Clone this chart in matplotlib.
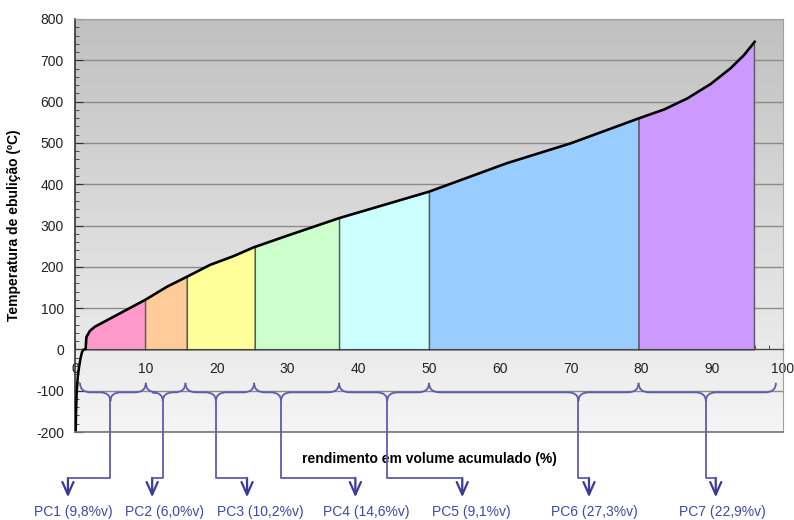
import matplotlib.pyplot as plt
import numpy as np
from matplotlib.colors import LinearSegmentedColormap
from matplotlib.path import Path
from matplotlib.patches import PathPatch
from matplotlib.ticker import MultipleLocator

plt.rcParams['font.family'] = ['Liberation Sans', 'DejaVu Sans']
plt.rcParams['axes.unicode_minus'] = False

# distillation curve: accumulated volume (%) vs boiling temperature (C)
vol = [0.1, 0.15, 0.25, 0.4, 0.6, 0.8, 1.0, 1.2, 1.5, 1.6, 2.1, 2.8, 9.9, 13.0,
       15.8, 19.1, 22.4, 25.2, 29.9, 37.3, 50.0, 61.0, 70.0, 79.7, 83.2, 86.5,
       89.8, 92.6, 94.5, 96.0]
temp = [-200, -150, -100, -65, -40, -20, -6, -1, 1, 30, 45, 55, 120, 152,
        176, 205, 226, 247, 275, 318, 382, 451, 499, 560, 581, 608,
        643, 681, 713, 745]

# cut points of the coloured fractions
cuts = [1.5, 9.9, 15.8, 25.4, 37.3, 50.0, 79.6, 95.9]
cut_colors = ['#ff99cc', '#ffcc99', '#ffff99', '#ccffcc', '#ccffff', '#99ccff', '#cc99ff']

# fraction labels
pc_names = ['PC1', 'PC2', 'PC3', 'PC4', 'PC5', 'PC6', 'PC7']
pc_vol = [9.8, 6.0, 10.2, 14.6, 9.1, 27.3, 22.9]

# brace / arrow layout under the axis
brace_ends = [0.7, 10.0, 15.6, 25.3, 37.3, 50.0, 79.6, 99.0]
brace_tips = [5.0, 12.4, 19.9, 29.1, 44.1, 71.1, 89.1]
arrow_x = [-1.0, 10.9, 24.3, 39.6, 54.7, 72.6, 90.5]
label_x = [-0.3, 12.6, 26.2, 41.2, 56.0, 73.3, 91.5]

fig = plt.figure(figsize=(7.94, 5.2), dpi=100)
ax = fig.add_axes([75 / 794, 1 - 432 / 520, 708 / 794, 413 / 520])

# grey gradient background
cmap_bg = LinearSegmentedColormap.from_list('bg', ['#c0c0c0', '#f5f5f5'])
ax.imshow(np.linspace(0, 1, 256).reshape(-1, 1), extent=[0, 100, -200, 800],
          aspect='auto', cmap=cmap_bg, origin='upper', zorder=0)
ax.set_xlim(0, 100)
ax.set_ylim(-200, 800)
ax.set_axisbelow(True)

# coloured fractions under the curve
for a, b, c in zip(cuts[:-1], cuts[1:], cut_colors):
    xs = [a] + [x for x in vol if a < x < b] + [b]
    ys = [np.interp(a, vol, temp)] + [t for x, t in zip(vol, temp) if a < x < b] + [np.interp(b, vol, temp)]
    ax.fill_between(xs, 0, ys, facecolor=c, edgecolor='#5a5a5a', lw=1, zorder=2)

ax.plot(vol, temp, color='black', lw=1.8, zorder=3)

# axes styling
ax.spines['bottom'].set_position(('data', 0))
ax.spines['bottom'].set_color('#444444')
ax.spines['left'].set_color('#333333')
ax.spines['left'].set_linewidth(1.2)
for s in ['top', 'right']:
    ax.spines[s].set_color('#a0a0a0')
ax.axhline(-200, color='#777777', lw=1.2, clip_on=False, zorder=3)

ax.xaxis.set_major_locator(MultipleLocator(10))
ax.xaxis.set_minor_locator(MultipleLocator(2))
ax.yaxis.set_major_locator(MultipleLocator(100))
ax.yaxis.set_minor_locator(MultipleLocator(20))
ax.tick_params(axis='both', which='both', direction='in', labelsize=10,
               labelcolor='#222222', color='#333333')
ax.tick_params(axis='x', which='major', length=5, pad=9)
ax.tick_params(axis='x', which='minor', length=3)
ax.tick_params(axis='y', which='major', length=6, pad=8)
ax.tick_params(axis='y', which='minor', length=3)
ax.yaxis.grid(True, color='#8a8a8a', lw=1)

ax.set_ylabel('Temperatura de ebulição (ºC)', fontsize=10, fontweight='bold')
ax.yaxis.set_label_coords(-0.076, 0.5)
ax.text(50, -265, 'rendimento em volume acumulado (%)', ha='center', va='center',
        fontsize=10, fontweight='bold', clip_on=False)

# braces grouping the fractions
line_c = '#5c5cb0'
y_top, y_h, y_bot = -81, -104, -125
r = 1.5
for i in range(len(brace_tips)):
    x0, x1, xm = brace_ends[i], brace_ends[i + 1], brace_tips[i]
    verts = [(x0, y_top), (x0, y_h), (x0 + r, y_h),
             (xm - r, y_h), (xm, y_h), (xm, y_bot),
             (xm, y_h), (xm + r, y_h),
             (x1 - r, y_h), (x1, y_h), (x1, y_top)]
    codes = [Path.MOVETO, Path.CURVE3, Path.CURVE3,
             Path.LINETO, Path.CURVE3, Path.CURVE3,
             Path.CURVE3, Path.CURVE3,
             Path.LINETO, Path.CURVE3, Path.CURVE3]
    ax.add_patch(PathPatch(Path(verts, codes), facecolor='none', edgecolor=line_c,
                           lw=1.3, clip_on=False, zorder=4))

    # connector down to the fraction label
    ax.plot([xm, xm, arrow_x[i]], [y_bot, -311, -311], color=line_c, lw=1.3,
            clip_on=False, zorder=4)
    ax.annotate('', xy=(arrow_x[i], -358), xytext=(arrow_x[i], -311),
                arrowprops=dict(arrowstyle='->,head_length=0.45,head_width=0.2',
                                color='#3a3a9a', lw=1.6, mutation_scale=20,
                                shrinkA=0, shrinkB=0),
                annotation_clip=False)
    label = f'{pc_names[i]} ({pc_vol[i]:.1f}%v)'.replace('.', ',')
    ax.text(label_x[i], -393, label, ha='center', va='center', fontsize=10,
            color='#3b4ba6', clip_on=False)

fig.savefig('out.png', dpi=100)
